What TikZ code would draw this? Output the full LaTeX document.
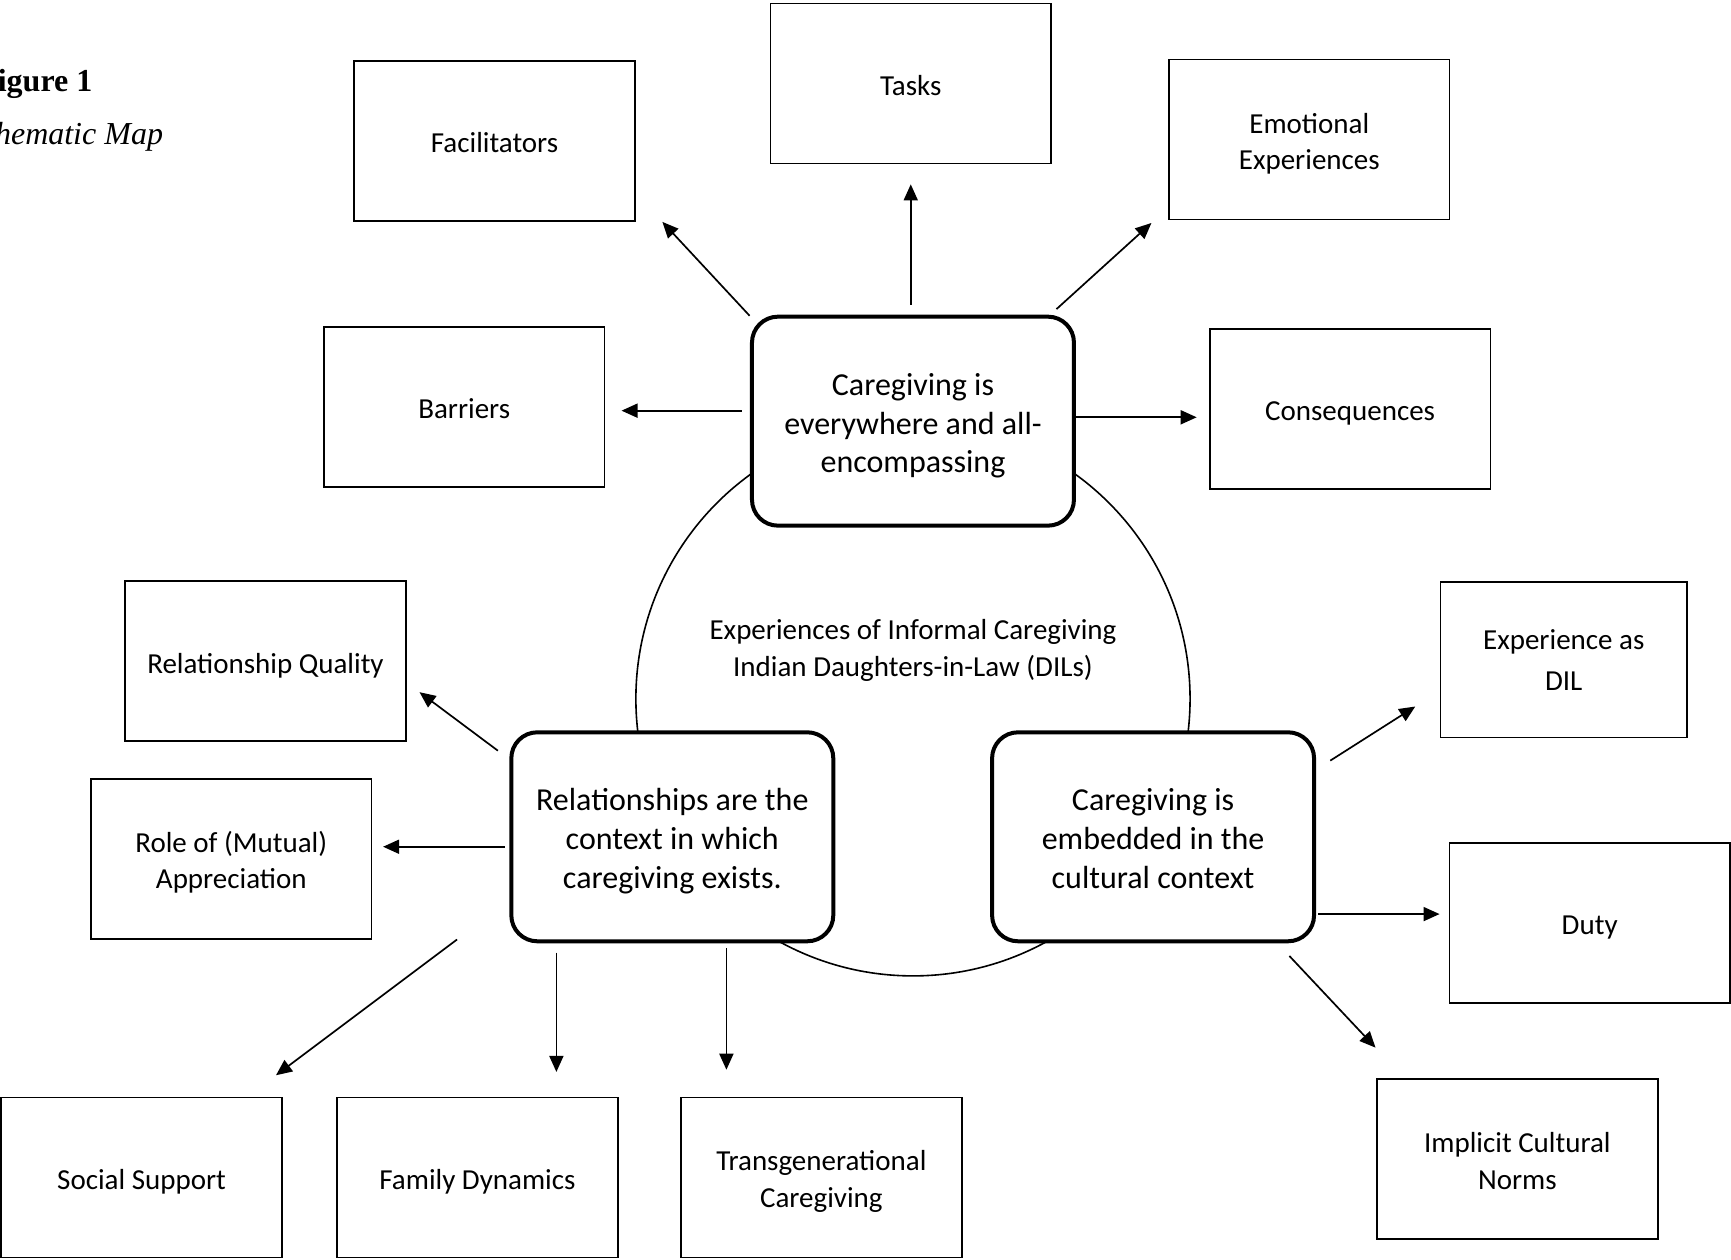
\documentclass[tikz,border=0pt]{standalone}
\usepackage{fontspec}
\setmainfont{Carlito}
\newfontfamily\titlefont{Liberation Serif}
\usetikzlibrary{arrows.meta}
\newcommand{\topstrut}{\rule{0pt}{1.05em}}
\newcommand{\botstrut}{\rule[-0.24em]{0pt}{0.24em}}
\begin{document}
\begin{tikzpicture}[x=0.552pt,y=-0.552pt,
  struts/.style={execute at begin node=\topstrut, execute at end node=\botstrut},
  box/.style={draw, line width=0.8pt, fill=white, minimum width=140.4pt, minimum height=80pt, inner sep=0pt, align=center, struts, font=\fontsize{14.5}{18.2}\selectfont},
  theme/.style={draw, line width=2pt, rounded corners=13pt, fill=white, minimum width=161pt, minimum height=104.5pt, inner sep=0pt, align=center, struts, font=\fontsize{16}{19.4}\selectfont},
  arr/.style={-{Triangle[length=8pt,width=7pt]}, line width=0.85pt},
  ttl/.style={anchor=base east, inner sep=0pt}]
\useasboundingbox (0,0) rectangle (1568,1141);
\fill[white] (0,0) rectangle (1568,1141);

% title
\node[ttl, font=\titlefont\bfseries\fontsize{16}{19}\selectfont] (fig) at (84,83) {Figure 1};
\node[ttl, font=\titlefont\itshape\fontsize{16}{19}\selectfont] (sub) at (148,131) {Schematic Map};

% circle and its text
\draw[line width=0.8pt] (827,633) circle [radius=251];
\node[align=center, inner sep=0pt, struts, font=\fontsize{14.5}{18.2}\selectfont] (core) at (827,585.5) {\topstrut Experiences of Informal Caregiving\\Indian Daughters-in-Law (DILs)};

% central themes
\node[theme] (top) at (827,381.5) {\topstrut Caregiving is\\everywhere and all-\\encompassing};
\node[theme] (left) at (609,758) {\topstrut Relationships are the\\context in which\\caregiving exists.};
\node[theme] (right) at (1044.5,758) {\topstrut Caregiving is\\embedded in the\\cultural context};

% sub-theme boxes
\node[box] (fac) at (448,127.5) {Facilitators};
\node[box] (tasks) at (825,75.5) {Tasks};
\node[box] (emo) at (1186,126.5) {\topstrut Emotional\\Experiences};
\node[box] (bar) at (420.5,368.5) {Barriers};
\node[box] (cons) at (1223,370.5) {Consequences};
\node[box] (relq) at (240.5,599) {Relationship Quality};
\node[box] (role) at (209.5,778) {\topstrut Role of (Mutual)\\Appreciation};
\node[box, minimum width=123.1pt, minimum height=77.8pt, font=\fontsize{14.5}{20.2}\selectfont] (dil) at (1416.5,597.5) {\rule{0pt}{0.97em}Experience as\\DIL};
\node[box] (duty) at (1440,836) {Duty};
\node[box] (soc) at (128.3,1066.5) {Social Support};
\node[box] (fam) at (432.5,1066.5) {Family Dynamics};
\node[box] (trans) at (744,1066.5) {\topstrut Transgenerational\\Caregiving};
\node[box] (impl) at (1374.5,1050) {\topstrut Implicit Cultural\\Norms};

% connector end points
\coordinate (s1) at (825,276);  \coordinate (e1) at (825,167);
\coordinate (s2) at (679,286);  \coordinate (e2) at (600,201);
\coordinate (s3) at (957,280);  \coordinate (e3) at (1043,202);
\coordinate (s4) at (672,372);  \coordinate (e4) at (563,372);
\coordinate (s5) at (975,378);  \coordinate (e5) at (1084,378);
\coordinate (s6) at (451,680);  \coordinate (e6) at (380,627);
\coordinate (s7) at (457,767);  \coordinate (e7) at (347,767);
\coordinate (s8) at (414,851);  \coordinate (e8) at (250,974);
\coordinate (s9) at (504,863);  \coordinate (e9) at (504,971);
\coordinate (s10) at (658,859); \coordinate (e10) at (658,969);
\coordinate (s11) at (1205,689); \coordinate (e11) at (1282,640);
\coordinate (s12) at (1194,828); \coordinate (e12) at (1304,828);
\coordinate (s13) at (1168,866); \coordinate (e13) at (1246,949);

\foreach \i in {1,...,13} { \draw[arr] (s\i) -- (e\i); }
\end{tikzpicture}
\end{document}
